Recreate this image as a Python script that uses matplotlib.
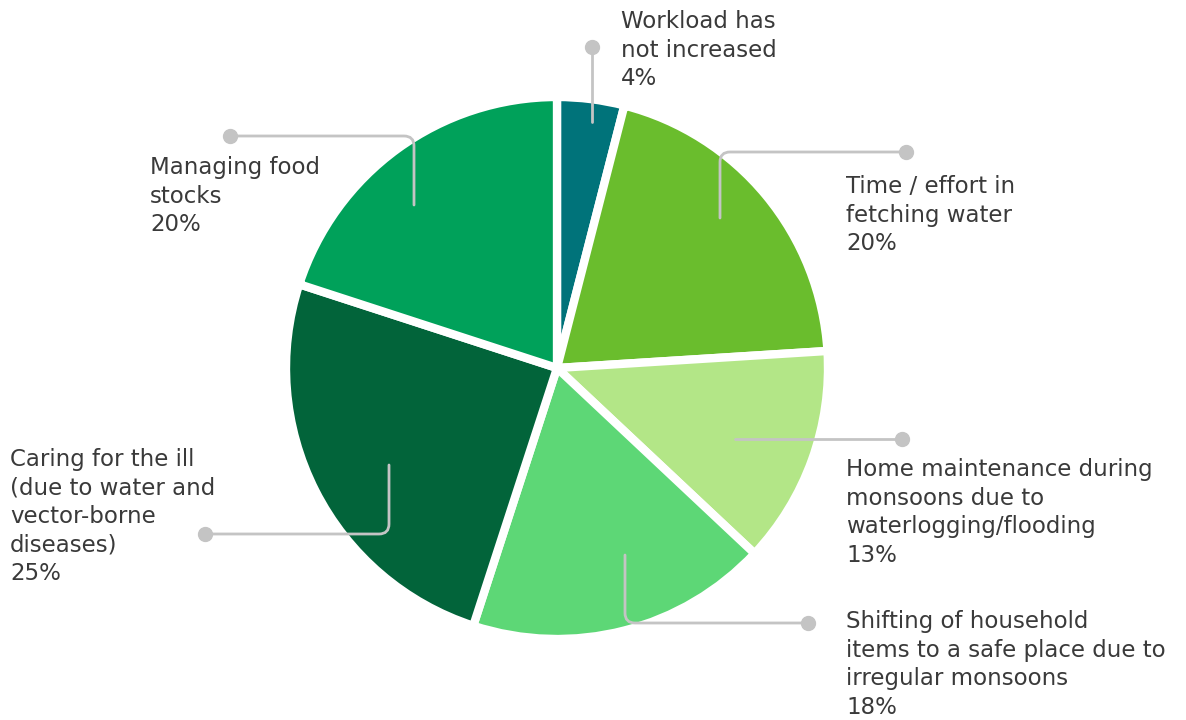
import matplotlib.pyplot as plt
from matplotlib.path import Path
from matplotlib.patches import PathPatch

plt.rcParams['font.family'] = ['DejaVu Sans']

labels = ['Workload has\nnot increased',
          'Time / effort in\nfetching water',
          'Home maintenance during\nmonsoons due to\nwaterlogging/flooding',
          'Shifting of household\nitems to a safe place due to\nirregular monsoons',
          'Caring for the ill\n(due to water and\nvector-borne\ndiseases)',
          'Managing food\nstocks']
shares = [4, 20, 13, 18, 25, 20]
colors = ['#00737a', '#6abd2d', '#b3e687', '#5dd776', '#02643a', '#00a15a']

W, H = 1186, 720
fig = plt.figure(figsize=(W / 100, H / 100), dpi=100)
ax = fig.add_axes([0, 0, 1, 1])
ax.set_xlim(0, W)
ax.set_ylim(0, H)
ax.set_aspect('equal')
ax.axis('off')

cx, cy, R = 557, H - 368, 271
ax.pie(shares, colors=colors, startangle=90, counterclock=False,
       center=(cx, cy), radius=R,
       wedgeprops=dict(edgecolor='white', linewidth=6))
ax.set_xlim(0, W)
ax.set_ylim(0, H)

GREY = '#c4c4c4'


def leader(pts, rad=10):
    # polyline through pts (pixel coords, y down) with rounded corners, dot at end
    pts = [(x, H - y) for x, y in pts]
    verts = [pts[0]]
    codes = [Path.MOVETO]
    for i in range(1, len(pts) - 1):
        (x0, y0), (x1, y1), (x2, y2) = pts[i - 1], pts[i], pts[i + 1]
        d1 = ((x1 - x0) ** 2 + (y1 - y0) ** 2) ** 0.5
        d2 = ((x2 - x1) ** 2 + (y2 - y1) ** 2) ** 0.5
        a = (x1 - (x1 - x0) * rad / d1, y1 - (y1 - y0) * rad / d1)
        b = (x1 + (x2 - x1) * rad / d2, y1 + (y2 - y1) * rad / d2)
        verts += [a, (x1, y1), b]
        codes += [Path.LINETO, Path.CURVE3, Path.CURVE3]
    verts.append(pts[-1])
    codes.append(Path.LINETO)
    ax.add_patch(PathPatch(Path(verts, codes), fill=False, edgecolor=GREY,
                           linewidth=2, capstyle='round', zorder=5))
    ax.plot(*pts[-1], 'o', color=GREY, markersize=10, zorder=6)


leaders = [
    [(592, 122), (592, 47)],
    [(720, 218), (720, 152), (906, 152)],
    [(735, 439), (902, 439)],
    [(625, 555), (625, 623), (808, 623)],
    [(389, 465), (389, 534), (205, 534)],
    [(414, 205), (414, 136), (230, 136)],
]
for pts in leaders:
    leader(pts)

# text anchors: left edge, top of first line
text_pos = [(621, 10), (846, 175), (846, 458), (846, 610), (10, 448), (150, 156)]
for lab, val, (tx, ty) in zip(labels, shares, text_pos):
    ax.text(tx, H - ty, f'{lab}\n{val}%', ha='left', va='top',
            fontsize=16.5, color='#3a3a3a', linespacing=1.31)

fig.savefig('out.png', dpi=100)
